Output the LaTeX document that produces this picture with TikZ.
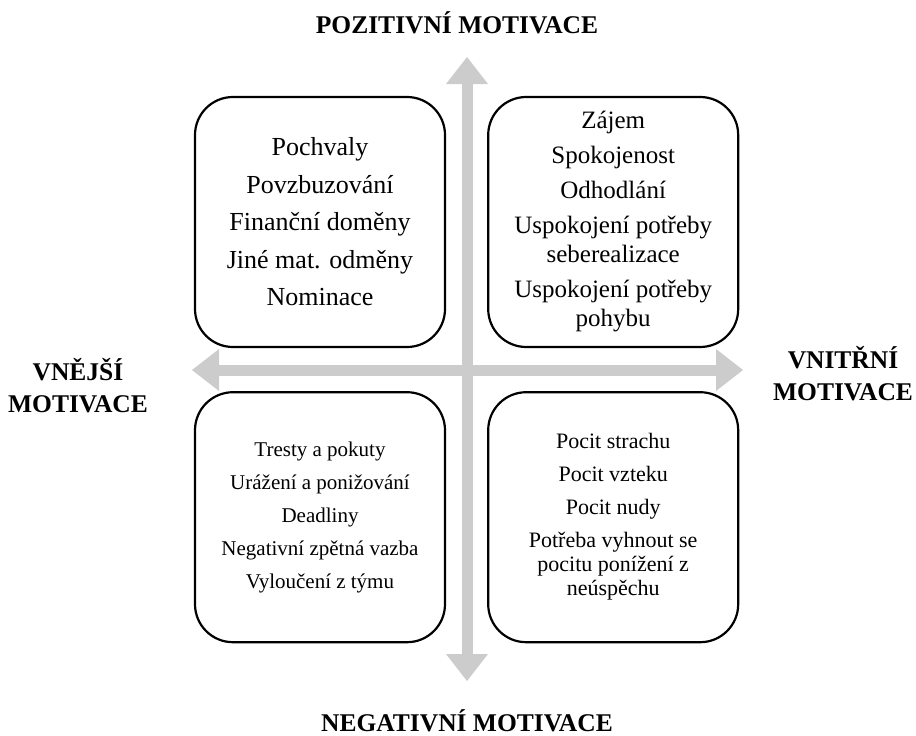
\documentclass[tikz,border=0pt]{standalone}
\usepackage{fontspec}
\setmainfont{Liberation Serif}
\usetikzlibrary{arrows.meta}
\usetikzlibrary{positioning}

\begin{document}
\begin{tikzpicture}[x=1pt, y=-1pt, node distance=43pt and 41pt,
    every node/.style = {align=center},
    box/.style = {draw, line width=2.2pt, rounded corners=38pt, fill=white,
                  minimum width=250pt, minimum height=250pt, inner sep=2pt},
    bigarrow/.style = {draw=black!20, line width=11pt,
                  >={Triangle[width=42pt, length=27pt, line width=0pt]}, <->},
    axislabel/.style = {font=\bfseries\fontsize{25.5}{32}\selectfont}]
  \useasboundingbox (0,0) rectangle (916,736);

  % arrow ends
  \coordinate (t) at (467,57);
  \coordinate (b) at (467,681);
  \coordinate (l) at (192,370);
  \coordinate (r) at (743,370);
  \draw[bigarrow] (l) -- (r);
  \draw[bigarrow] (t) -- (b);

  \node[box, font=\fontsize{26}{37.5}\selectfont] (1) at (320,222)
    {Pochvaly\\Povzbuzování\\Finanční doměny\\Jiné mat. odměny\\Nominace};
  \node[box, right=of 1, font=\fontsize{25}{29}\selectfont] (2)
    {Zájem\\[6pt]Spokojenost\\[6pt]Odhodlání\\[6pt]Uspokojení potřeby\\seberealizace\\[6pt]Uspokojení potřeby\\pohybu};
  \node[box, below=of 1, font=\fontsize{21}{33}\selectfont] (3)
    {Tresty a pokuty\\Urážení a ponižování\\Deadliny\\Negativní zpětná vazba\\Vyloučení z týmu};
  \node[box, below=of 2, font=\fontsize{22}{24}\selectfont] (4)
    {Pocit strachu\\[9pt]Pocit vzteku\\[9pt]Pocit nudy\\[9pt]Potřeba vyhnout se\\pocitu ponížení z\\neúspěchu};

  \node[axislabel, anchor=base] (pos) at (457,33) {POZITIVNÍ MOTIVACE};
  \node[axislabel, anchor=base] (neg) at (467,731) {NEGATIVNÍ MOTIVACE};
  \node[axislabel] (ext) at (78,386) {VNĚJŠÍ\\MOTIVACE};
  \node[axislabel] (int) at (843,374) {VNITŘNÍ\\MOTIVACE};
\end{tikzpicture}
\end{document}
